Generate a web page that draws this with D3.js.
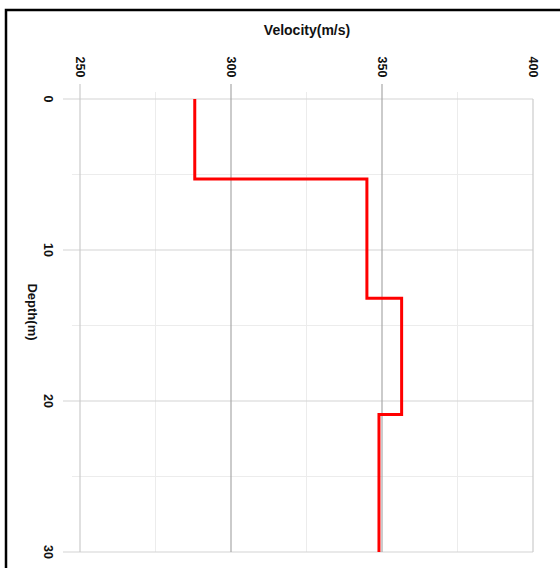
<!DOCTYPE html>
<html>
<head>
<meta charset="utf-8">
<script src="https://cdn.jsdelivr.net/npm/d3@7"></script>
<style>
  body { margin: 0; background: #fff; }
  text { font-family: "Liberation Sans", Arial, sans-serif; font-weight: bold; fill: #111; }
</style>
</head>
<body>
<script>
// step profile: velocity of each layer and depth where it starts / ends
var velocities = [288, 345, 356.5, 349];
var layerTops = [0, 5.3, 13.2, 20.9];
var layerBottoms = [5.3, 13.2, 20.9, 30];

var xTicks = [250, 300, 350, 400];
var xMinor = [275, 325, 375];
var yTicks = [0, 10, 20, 30];
var yMinor = [5, 15, 25];

var width = 560, height = 568;

var svg = d3.select("body").append("svg")
    .attr("width", width)
    .attr("height", height);

// outer frame (runs off the picture right and bottom)
svg.append("rect")
    .attr("x", 6).attr("y", 10)
    .attr("width", 570).attr("height", 580)
    .attr("fill", "none")
    .attr("stroke", "#000")
    .attr("stroke-width", 2.5);

var x = d3.scaleLinear().domain([250, 400]).range([80, 533]);
var y = d3.scaleLinear().domain([0, 30]).range([99, 552]);

var grid = svg.append("g");

// minor grid lines
grid.selectAll(".xminor")
    .data(xMinor).enter().append("line")
    .attr("x1", d => x(d)).attr("x2", d => x(d))
    .attr("y1", y(0) - 7).attr("y2", y(30))
    .attr("stroke", "#ececec");

grid.selectAll(".yminor")
    .data(yMinor).enter().append("line")
    .attr("x1", x(250) - 8).attr("x2", x(400))
    .attr("y1", d => y(d)).attr("y2", d => y(d))
    .attr("stroke", "#ececec");

// major grid lines
grid.selectAll(".ymajor")
    .data(yTicks).enter().append("line")
    .attr("x1", x(250) - 17).attr("x2", x(400))
    .attr("y1", d => y(d)).attr("y2", d => y(d))
    .attr("stroke", "#d4d4d4")
    .attr("stroke-width", 1.2);

grid.selectAll(".xmajor")
    .data(xTicks).enter().append("line")
    .attr("x1", d => x(d)).attr("x2", d => x(d))
    .attr("y1", d => d == 400 ? y(0) : y(0) - 15)
    .attr("y2", y(30))
    .attr("stroke", d => (d == 300 || d == 350) ? "#a8a8a8" : "#cccccc")
    .attr("stroke-width", 1.2);

// tick labels, turned a quarter clockwise
svg.selectAll(".xlab")
    .data(xTicks).enter().append("text")
    .attr("transform", d => "translate(" + x(d) + ",67) rotate(90)")
    .attr("text-anchor", "middle")
    .attr("dy", "0.35em")
    .style("font-size", "12.5px")
    .text(d => d);

svg.selectAll(".ylab")
    .data(yTicks).enter().append("text")
    .attr("transform", d => "translate(48," + y(d) + ") rotate(90)")
    .attr("text-anchor", "middle")
    .attr("dy", "0.35em")
    .style("font-size", "12.5px")
    .text(d => d);

// axis titles
svg.append("text")
    .attr("x", 307).attr("y", 30)
    .attr("text-anchor", "middle")
    .attr("dy", "0.35em")
    .style("font-size", "14px")
    .text("Velocity(m/s)");

svg.append("text")
    .attr("transform", "translate(33,312) rotate(90)")
    .attr("text-anchor", "middle")
    .attr("dy", "0.35em")
    .style("font-size", "13px")
    .text("Depth(m)");

// build the step path from the layers
var pts = [];
velocities.forEach(function(v, i) {
  pts.push([v, layerTops[i]]);
  pts.push([v, layerBottoms[i]]);
});

var line = d3.line()
    .x(d => x(d[0]))
    .y(d => y(d[1]));

svg.append("path")
    .datum(pts)
    .attr("d", line)
    .attr("fill", "none")
    .attr("stroke", "#ff0000")
    .attr("stroke-width", 3);
</script>
</body>
</html>
